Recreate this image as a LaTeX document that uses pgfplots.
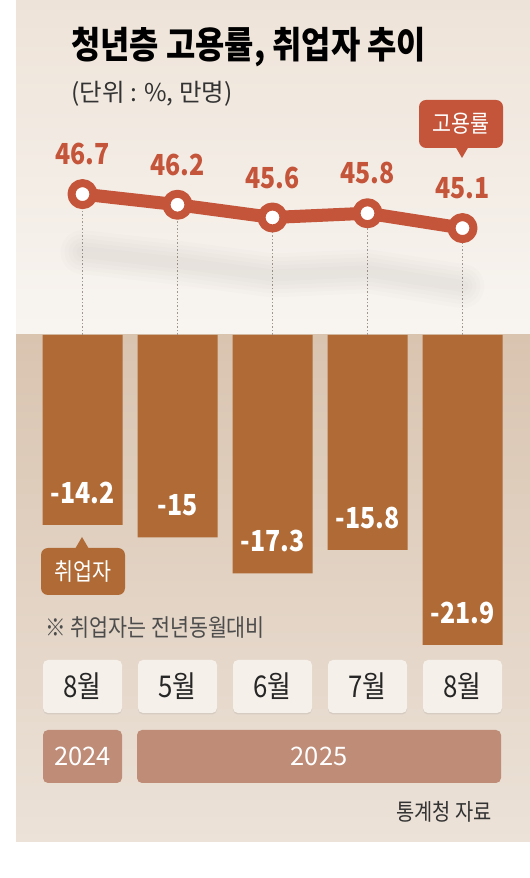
\documentclass[border=0pt]{standalone}
\usepackage{fontspec}
\setmainfont{Noto Sans CJK KR}
\newfontfamily\cond{Noto Sans CJK KR}[FakeStretch=0.86]
\usepackage{pgfplots}
\pgfplotsset{compat=1.18}
\usepackage{pgfplotstable}
\usetikzlibrary{shadows}
\newcommand\fs[1]{\fontsize{#1}{#1}\selectfont}
\definecolor{lineC}{HTML}{C4553A}
\definecolor{barC}{HTML}{AF6A35}
\definecolor{yearC}{HTML}{BF8C78}
\definecolor{monthC}{HTML}{F5F0EA}
\definecolor{bgTopA}{HTML}{EEE3D8}
\definecolor{bgTopB}{HTML}{F8F5F1}
\definecolor{bgLowA}{HTML}{D9C4B0}
\definecolor{bgLowB}{HTML}{ECE2D8}
\definecolor{dotC}{HTML}{A09890}
\pgfplotstableread{
x rate emp
0 46.7 -14.2
1 46.2 -15
2 45.6 -17.3
3 45.8 -15.8
4 45.1 -21.9
}\data
\begin{document}
\begin{tikzpicture}[x=1pt,y=1pt]
\useasboundingbox (0,0) rectangle (530,878);
\fill[white] (0,0) rectangle (530,878);
% panels
\shade[top color=bgTopA, bottom color=bgTopB] (16,543) rectangle (530,878);
\shade[top color=bgLowA, bottom color=bgLowB] (16,36) rectangle (530,543);
% title
\node[anchor=west, inner sep=0] at (71,831) {\cond\bfseries\fs{37}청년층 고용률, 취업자 추이};
\node[anchor=west, inner sep=0, text=black!80] at (71,784) {\fs{24.5}(단위 : \%, 만명)};
% bar axis
\begin{axis}[at={(35pt,223.7pt)}, anchor=south west, scale only axis,
  width=475pt, height=319.39pt, xmin=-0.5, xmax=4.5, ymin=-22.5, ymax=-2,
  hide axis, clip=true, ybar, bar width=80pt,
  /pgf/number format/assume math mode=true]
\addplot[fill=barC, draw=none,
  nodes near coords,
  every node near coord/.append style={font=\cond\bfseries\fs{29}, text=white, anchor=center, yshift=32pt}]
  table[x=x, y=emp]{\data};
\end{axis}
% line axis
\begin{axis}[at={(35pt,543pt)}, anchor=south west, scale only axis,
  width=475pt, height=232.26pt, xmin=-0.5, xmax=4.5, ymin=40.07, ymax=51,
  hide axis, clip=true,
  /pgf/number format/assume math mode=true]
\addplot[ycomb, draw=dotC, line width=0.8pt, dash pattern=on 1.5pt off 2pt, forget plot]
  table[x=x, y=rate]{\data};
\pgfplotsinvokeforeach{44,36,28,20,12}{
\addplot[draw=black!70!brown, draw opacity=0.012, line width=#1pt, line cap=round, yshift=-58pt, forget plot]
  table[x=x, y=rate]{\data};
}
\addplot[draw=lineC, line width=13pt, line join=round, mark=*, mark size=11pt,
  mark options={solid, fill=white, draw=lineC, line width=8pt},
  nodes near coords,
  every node near coord/.append style={font=\cond\bfseries\fs{29}, text=lineC, anchor=center, yshift=40pt}]
  table[x=x, y=rate]{\data};
\end{axis}
% callouts
\node[fill=lineC, rounded corners=7pt, minimum width=84pt, minimum height=48pt, inner sep=0, text=white] at (461,754) {\cond\fs{24}고용률};
\fill[lineC] (455,732) -- (469,732) -- (462,720) -- cycle;
\node[fill=barC, rounded corners=7pt, minimum width=84pt, minimum height=47pt, inner sep=0, text=white] at (83,306.5) {\cond\fs{24}취업자};
\fill[barC] (75,329) -- (89,329) -- (82,341) -- cycle;
% note
\node[anchor=west, inner sep=0, text=black!70] at (45,250) {\cond\fs{24}※ 취업자는 전년동월대비};
% month boxes
\foreach \i/\m in {0/8월,1/5월,2/6월,3/7월,4/8월}{
  \node[fill=monthC, rounded corners=5pt, minimum width=79pt, minimum height=53pt, inner sep=0,
    drop shadow={shadow xshift=0pt, shadow yshift=-1.5pt, opacity=0.15}]
    at ({82.5+95*\i},191.5) {\cond\fs{30}\color{black!85}\m};
}
% year boxes
\node[fill=yearC, rounded corners=5pt, minimum width=79pt, minimum height=53pt, inner sep=0, text=white] at (82.5,121.5) {\fs{25.5}2024};
\node[fill=yearC, rounded corners=5pt, minimum width=364pt, minimum height=53pt, inner sep=0, text=white] at (319,121.5) {\fs{25.5}2025};
% source
\node[anchor=east, inner sep=0, text=black!80] at (492,66) {\cond\fs{23}통계청 자료};
\end{tikzpicture}
\end{document}
